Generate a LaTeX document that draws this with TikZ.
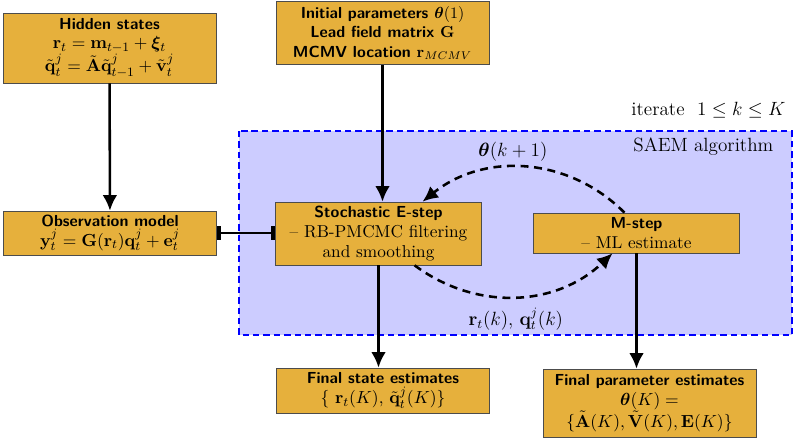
\documentclass[tikz,border=0pt]{standalone}
\usepackage{amsmath,amssymb,bm}
\usepackage{tikz}
\usetikzlibrary{arrows.meta,calc,positioning}
\definecolor{saemorange}{RGB}{230,176,60}
\definecolor{saemblue}{RGB}{204,204,255}
\newcommand{\boxtitle}[1]{{\fontsize{10}{12}\selectfont\sffamily\bfseries #1}}

\begin{document}
\begin{tikzpicture}[x=0.022cm,y=-0.022cm,
  stepbox/.style={draw=black!70,fill=saemorange,align=flush center,inner xsep=2pt,inner ysep=1pt,
    font=\fontsize{10.8}{12.3}\selectfont,text width=#1},
  biglabel/.style={font=\fontsize{12}{14}\selectfont},
  flow/.style={line width=1.6pt,-{Latex[length=3.4mm,width=3.2mm]}},
  bars/.style={line width=1.6pt,{Bar[width=3mm,line width=2.6pt]}-{Bar[width=3mm,line width=2.6pt]}},
  loopback/.style={line width=1.6pt,dash pattern=on 5pt off 3.5pt,-{Latex[length=3.4mm,width=3.2mm]}},
  saemframe/.style={draw=blue,fill=saemblue,line width=1.1pt,dash pattern=on 4pt off 2.5pt}]
  \useasboundingbox (0,0) rectangle (800,438);
  \coordinate (saemnw) at (239,131);
  \coordinate (saemse) at (792,335);
  \draw[saemframe] (saemnw) rectangle (saemse);
  \node[biglabel,anchor=base east] (iterlabel) at (791,115) {iterate\ \ $1 \leq k \leq K$};
  \node[biglabel,anchor=base east] (saemlabel) at (779,151) {SAEM algorithm};

  \node[stepbox=4.55cm,minimum height=70*0.022cm] (hidden) at (109.5,48)
    {\boxtitle{Hidden states}\\
     $\mathbf{r}_t = \mathbf{m}_{t-1} + \boldsymbol{\xi}_t$\\
     $\tilde{\mathbf{q}}_t^j = \tilde{\mathbf{A}}\tilde{\mathbf{q}}_{t-1}^j + \tilde{\mathbf{v}}_t^j$};
  \node[stepbox=4.55cm,minimum height=63*0.022cm] (init) at (382.5,33)
    {\boxtitle{Initial parameters $\boldsymbol{\theta}(1)$}\\
     \boxtitle{Lead field matrix $\mathbf{G}$}\\
     \boxtitle{MCMV location $\mathbf{r}_{MCMV}$}};
  \node[stepbox=4.55cm,minimum height=44*0.022cm] (obs) at (110,233)
    {\boxtitle{Observation model}\\
     $\mathbf{y}_t^j = \mathbf{G}(\mathbf{r}_t)\mathbf{q}_t^j + \mathbf{e}_t^j$};
  \node[stepbox=4.38cm,minimum height=63*0.022cm] (estep) at (378.5,233.5)
    {\boxtitle{Stochastic E-step}\\
     -- RB-PMCMC filtering\\ and smoothing};
  \node[stepbox=4.38cm,minimum height=40*0.022cm] (mstep) at (636.5,233)
    {\boxtitle{M-step}\\ -- ML estimate};
  \node[stepbox=4.55cm,minimum height=45*0.022cm] (fstate) at (383,390.5)
    {\boxtitle{Final state estimates}\\
     $\{\ \mathbf{r}_t(K)$, $\tilde{\mathbf{q}}_t^j(K)\}$};
  \node[stepbox=4.55cm,minimum height=68*0.022cm] (fparam) at (649.5,403)
    {\boxtitle{Final parameter estimates}\\
     $\boldsymbol{\theta}(K) =$\\
     $\{\tilde{\mathbf{A}}(K), \tilde{\mathbf{V}}(K), \mathbf{E}(K)\}$};

  \draw[flow] (hidden) -- (obs);
  \draw[flow] (init.south) -- (init.south |- estep.north);
  \draw[bars] (obs.east) -- (estep.west |- obs.east);
  \draw[flow] (estep.south) -- (estep.south |- fstate.north);
  \draw[flow] (mstep.south) -- (mstep.south |- fparam.north);
  \draw[loopback] ($(mstep.north)+(-12,0)$) to[bend right=42]
    node[biglabel,above,xshift=-8pt] {$\boldsymbol{\theta}(k+1)$} ($(estep.north east)+(-59,0)$);
  \draw[loopback] ($(estep.south east)+(-67,0)$) to[bend right=40]
    node[biglabel,below,yshift=-3pt] {$\mathbf{r}_t(k)$, $\mathbf{q}_t^j(k)$} ($(mstep.south west)+(79,0)$);
\end{tikzpicture}
\end{document}
